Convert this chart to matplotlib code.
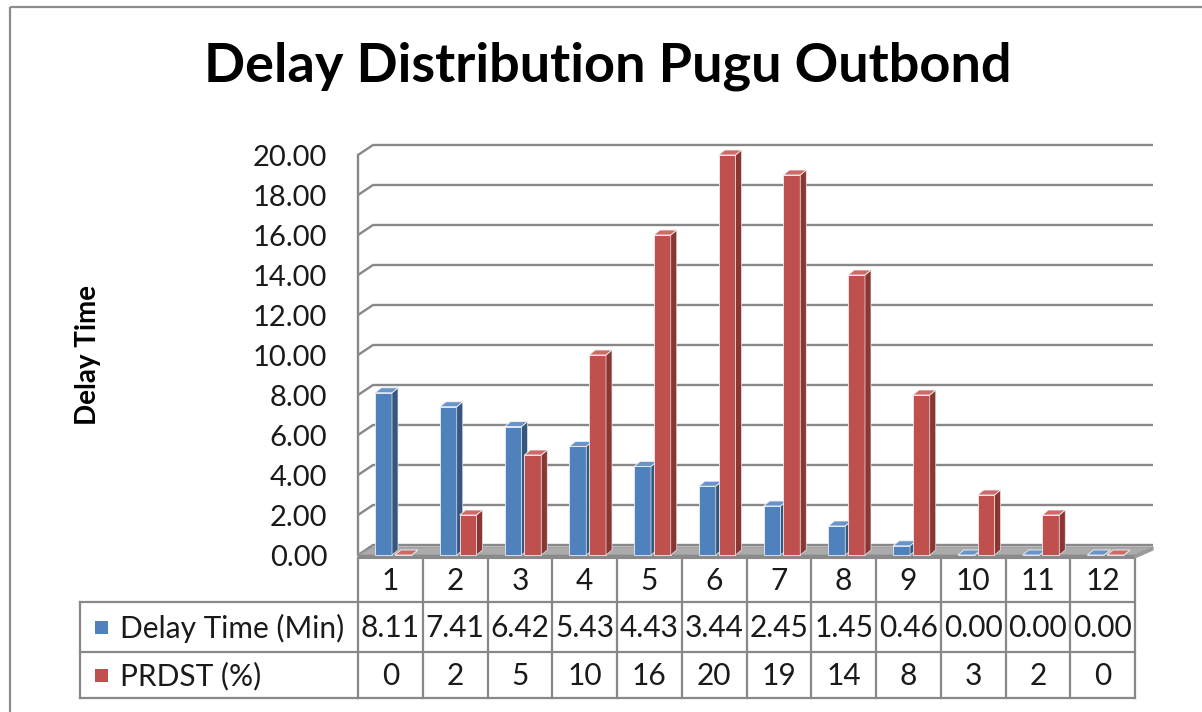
import matplotlib
matplotlib.use("Agg")
import matplotlib.pyplot as plt
from matplotlib.patches import Polygon, Rectangle
from matplotlib.transforms import blended_transform_factory

# ---- data ----
categories = [1, 2, 3, 4, 5, 6, 7, 8, 9, 10, 11, 12]
delay_time = [8.11, 7.41, 6.42, 5.43, 4.43, 3.44, 2.45, 1.45, 0.46, 0.00, 0.00, 0.00]
prdst = [0, 2, 5, 10, 16, 20, 19, 14, 8, 3, 2, 0]
series_names = ["Delay Time (Min)", "PRDST (%)"]
y_ticks = [0, 2, 4, 6, 8, 10, 12, 14, 16, 18, 20]
title = "Delay Distribution Pugu Outbond"
y_label = "Delay Time"

plt.rcParams["font.family"] = ["Lato", "DejaVu Sans"]

W, H = 1202, 712
fig = plt.figure(figsize=(W / 100, H / 100), dpi=100)

# full-figure pixel canvas for frame, title and data table
canvas = fig.add_axes([0, 0, 1, 1])
canvas.set_xlim(0, W)
canvas.set_ylim(H, 0)
canvas.axis("off")

# plot area (front plane): x 358..1135 px, y value 0 at 555 px, 20 at 155 px
x_left, x_right = 358, 1135
y_zero, y_top = 555, 155
ax = fig.add_axes([x_left / W, (H - y_zero) / H,
                   (x_right - x_left) / W, (y_zero - y_top) / H])
n = len(categories)
ax.set_xlim(0.5, n + 0.5)
ax.set_ylim(0, 20)
for s in ax.spines.values():
    s.set_visible(False)
ax.set_xticks([])
ax.set_yticks(y_ticks)
ax.set_yticklabels([f"{v:.2f}" for v in y_ticks])
ax.tick_params(axis="y", length=0, pad=22, labelsize=21, labelcolor="#1a1a1a")
ax.set_facecolor("none")

# pixel -> data unit conversion for depth offsets
px_x = (x_right - x_left) / n
px_y = (y_zero - y_top) / 20.0

def dx(p):
    return p / px_x

def dy(p):
    return p / px_y

grid_c = "#888888"
# back wall gridlines with depth step from the value axis
wall_dx, wall_dy = 15, 10
for v in y_ticks:
    xs = [0.5, 0.5 + dx(wall_dx), n + 0.5 + dx(18)]
    ys = [v, v + dy(wall_dy), v + dy(wall_dy)]
    ax.plot(xs, ys, color=grid_c, lw=1.7, clip_on=False, zorder=1,
            solid_capstyle="butt")
# value axis line
ax.plot([0.5, 0.5], [0, 20], color=grid_c, lw=1.7, clip_on=False, zorder=1)

# floor
floor_top = Polygon([(0.5, 0), (n + 0.5, 0), (n + 0.5 + dx(18), dy(8)),
                     (0.5 + dx(15), dy(8))], closed=True,
                    facecolor="#ababab", edgecolor="#9a9a9a", lw=0.8,
                    clip_on=False, zorder=2)
floor_front = Polygon([(0.5, 0), (n + 0.5, 0), (n + 0.5, -dy(3)),
                       (0.5, -dy(3))], closed=True,
                      facecolor="#8a8a8a", edgecolor="#8a8a8a", lw=0.8,
                      clip_on=False, zorder=2)
floor_side = Polygon([(n + 0.5, 0), (n + 0.5 + dx(18), dy(8)),
                      (n + 0.5 + dx(18), dy(5)), (n + 0.5, -dy(3))], closed=True,
                     facecolor="#9a9a9a", edgecolor="#9a9a9a", lw=0.8,
                     clip_on=False, zorder=2)
for p in (floor_top, floor_front, floor_side):
    ax.add_patch(p)

# 3D-looking columns
bar_w = 0.26
offsets = [-0.235, 0.07]
colors = [("#4f81bd", "#35577f", "#6a94c9"), ("#c0504d", "#8a3633", "#cd6a67")]
depth_x, depth_y = 6, 5
z = 3
for i, cat in enumerate(categories):
    for s, vals in enumerate((delay_time, prdst)):
        h = vals[i]
        front_c, side_c, top_c = colors[s]
        x0 = i + 1 + offsets[s]
        x1 = x0 + bar_w
        ddx, ddy = dx(depth_x), dy(depth_y)
        ax.bar(x0, h, width=bar_w, align="edge", color=front_c,
               edgecolor="#e8eef6", linewidth=0.6, zorder=z, clip_on=False)
        side = Polygon([(x1, 0), (x1 + ddx, ddy), (x1 + ddx, h + ddy), (x1, h)],
                       closed=True, facecolor=side_c, edgecolor="#e8e8e8",
                       lw=0.5, zorder=z, clip_on=False)
        top = Polygon([(x0, h), (x1, h), (x1 + ddx, h + ddy), (x0 + ddx, h + ddy)],
                      closed=True, facecolor=top_c, edgecolor="#f2f2f2",
                      lw=0.6, zorder=z + 0.1, clip_on=False)
        ax.add_patch(side)
        ax.add_patch(top)
        z += 0.2

# ---- data table below the plot ----
tcol = "#888888"
mixed = blended_transform_factory(ax.transData, canvas.transData)
row_edges = [558, 602, 652, 698]
leg_left = 80
# vertical lines between categories
for k in range(n + 1):
    canvas.plot([0.5 + k, 0.5 + k], [row_edges[0], row_edges[-1]],
                color=tcol, lw=1.6, transform=mixed, clip_on=False)
# horizontal lines
for yy in row_edges[1:]:
    canvas.plot([leg_left, x_left], [yy, yy], color=tcol, lw=1.6, clip_on=False)
    canvas.plot([0.5, n + 0.5], [yy, yy], color=tcol, lw=1.6,
                transform=mixed, clip_on=False)
canvas.plot([leg_left, leg_left], [row_edges[1], row_edges[-1]],
            color=tcol, lw=1.6, clip_on=False)

txt_kw = dict(fontsize=21.5, color="#1a1a1a", va="center")
row_mid = [(row_edges[j] + row_edges[j + 1]) / 2 + 1 for j in range(3)]
for i, cat in enumerate(categories):
    canvas.text(i + 1, row_mid[0], str(cat), ha="center", transform=mixed, **txt_kw)
    canvas.text(i + 1, row_mid[1], f"{delay_time[i]:.2f}", ha="center",
                transform=mixed, **txt_kw)
    canvas.text(i + 1, row_mid[2], f"{prdst[i]:d}", ha="center",
                transform=mixed, **txt_kw)

for j, name in enumerate(series_names):
    ym = row_mid[j + 1] - 1
    canvas.add_patch(Rectangle((95, ym - 6.5), 13, 13, facecolor=colors[j][0],
                               edgecolor="none"))
    canvas.text(120, ym + 1, name, ha="left", **txt_kw)

# title and axis title
canvas.text(608, 66, title, ha="center", va="center", fontsize=39,
            fontweight="bold", color="black")
canvas.text(88, 355, y_label, ha="center", va="center", rotation=90,
            fontsize=20, fontweight="bold", color="black")

# chart frame
canvas.add_patch(Rectangle((10, 7), 1260, 800, facecolor="none",
                           edgecolor="#8c8c8c", lw=1.6, clip_on=True))

fig.savefig("out.png", dpi=100)
